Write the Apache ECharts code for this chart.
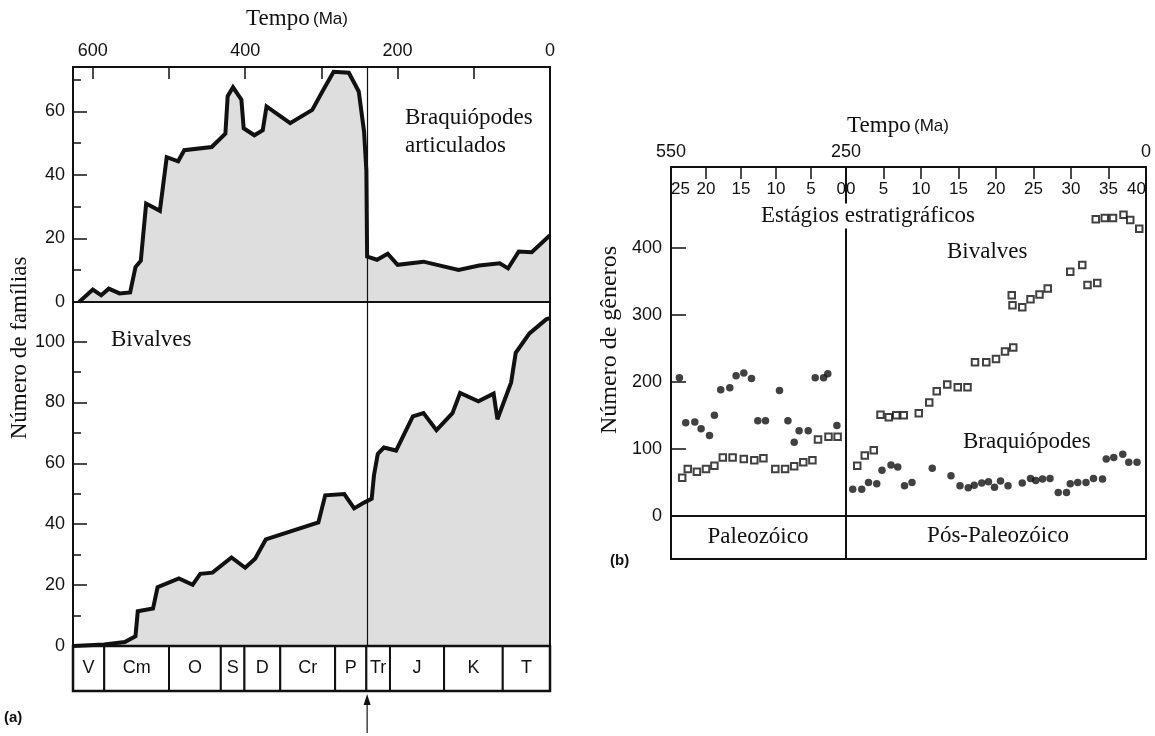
<!DOCTYPE html>
<html><head><meta charset="utf-8">
<script src="https://cdn.jsdelivr.net/npm/echarts@6/dist/echarts.min.js"></script>
<style>html,body{margin:0;padding:0;background:#fff}#c{width:1155px;height:736px}</style>
</head><body><div id="c"></div>
<script>
// ---------- Panel (a) data: time in Ma, number of families ----------
const brachAge = [618,600,589,579,565,551,544,537,530,512,503,488,480,444,426,423,416,405,402,388,377,372,341,312,298,284,264,251,244,241,240,227,213,200,166,120,93,66,55,41,24,0];
const brachFam = [0,3.9,2.1,4.2,2.7,3.0,11,13,31,28.7,45.6,44.3,47.8,48.8,53,64.8,67.6,63.7,54.7,52.5,54.1,61.6,56.3,60.5,66.6,72.5,72.2,66.3,53.6,41.4,14.3,13.3,15.2,11.7,12.7,10.1,11.5,12.2,10.6,15.9,15.7,21];
const bivAge = [626,585,558,544,541,521,515,487,469,459,443,418,400,387,373,304,295,270,257,244,234,231,226,218,202,180,166,149,128,118,94,74,69,51,45,27,5,0];
const bivFam = [0,0.5,1.3,3.2,11.4,12.3,19.3,22.2,20.1,23.7,24.1,29.1,25.7,28.7,35,40.6,49.5,49.9,45.2,47.1,48.4,56.1,63.1,65.2,64.2,75.4,76.5,70.9,76.5,83.1,80.4,82.9,74.5,86.6,96.3,102.7,107.3,107.7];
const periodNames = ['V','Cm','O','S','D','Cr','P','Tr','J','K','T'];
const periodBounds = [626,585,500,432,401,354,282,241,210,139,62,0];
const extinctionAge = 240;
const timeTicks = [0,100,200,300,400,500,600];
const timeLabels = [0,200,400,600];
const brachMajor = [0,20,40,60], brachMinor = [10,30,50,70];
const bivMajor = [0,20,40,60,80,100], bivMinor = [10,30,50,70,90];

// ---------- Panel (b) data: stratigraphic stage, number of genera ----------
const paleoBrachStage = [23.8,22.9,21.6,20.7,19.5,18.8,17.9,16.6,15.7,14.6,13.5,12.6,11.5,9.5,8.3,7.4,6.7,5.4,4.4,3.2,2.6,1.3];
const paleoBrachCount = [206,139,140,130,120,150,188,191,209,213,205,142,142,187,142,110,127,127,206,206,212,135];
const paleoBivStage = [23.4,22.6,21.3,20.0,18.8,17.6,16.2,14.6,13.1,11.8,10.1,8.7,7.4,6.1,4.8,4.0,2.5,1.2];
const paleoBivCount = [57,70,66,70,75,87,87,85,83,86,70,70,74,80,83,114,118,118];
const postBivStage = [1.5,2.5,3.7,4.6,5.7,6.7,7.7,9.7,11.1,12.1,13.5,14.9,16.2,17.2,18.7,20.0,21.2,22.3,22.1,22.2,23.5,24.6,25.8,26.9,29.9,31.5,32.2,33.5,33.3,34.5,35.6,37.0,37.9,39.1];
const postBivCount = [75,90,98,151,147,150,150,153,169,186,196,192,192,229,229,234,245,251,329,314,311,323,330,339,364,374,344,347,442,444,444,449,441,428];
const postBrachStage = [0.9,2.1,3.0,4.1,4.8,6.0,6.9,7.8,8.8,11.5,14.0,15.2,16.3,17.1,18.1,19.0,19.8,20.6,21.6,23.5,24.6,25.3,26.2,27.2,28.3,29.4,29.9,30.9,32.0,33.0,34.2,34.7,35.7,36.9,37.7,38.8];
const postBrachCount = [40,40,50,48,68,76,73,45,50,71,60,45,42,46,49,51,43,52,45,49,56,53,55,56,35,35,48,50,50,56,55,85,87,92,80,80];
const paleoStageTicks = [5,10,15,20], paleoStageLabels = [0,5,10,15,20,25];
const postStageTicks = [5,10,15,20,25,30,35], postStageLabels = [0,5,10,15,20,25,30,35,40];
const generaTicks = [100,200,300,400], generaLabels = [0,100,200,300,400];

const SERIF = 'Liberation Serif', SANS = 'Liberation Sans', INK = '#111';
const zip = (a, b) => a.map((v, i) => [v, b[i]]);
const lab = (vals, extra) => Object.assign({customValues: vals, fontFamily: SANS, fontSize: 18, color: INK}, extra || {});
const tick = (vals, len) => ({show: true, inside: true, length: len, customValues: vals, lineStyle: {color: INK, width: 1.5}});
const noLine = {show: false, onZero: false};
const hidden = (grid, extra) => Object.assign({type: 'value', gridIndex: grid, show: false, axisLine: noLine,
  axisTick: {show: false}, axisLabel: {show: false}, splitLine: {show: false}}, extra || {});
const gridBase = {show: true, borderColor: INK, borderWidth: 2, backgroundColor: 'transparent', z: 5};

const chart = echarts.init(document.getElementById('c'));
const option = {
  animation: false,
  backgroundColor: '#fff',
  grid: [
    Object.assign({left: 73, top: 67, width: 477, height: 235}, gridBase),
    Object.assign({left: 73, top: 302, width: 477, height: 344}, gridBase),
    Object.assign({left: 73, top: 646, width: 477, height: 45}, gridBase, {borderWidth: 2.5}),
    Object.assign({left: 671, top: 167, width: 175, height: 349}, gridBase),
    Object.assign({left: 846, top: 167, width: 300, height: 349}, gridBase),
    Object.assign({left: 671, top: 516, width: 175, height: 43}, gridBase),
    Object.assign({left: 846, top: 516, width: 300, height: 43}, gridBase)
  ],
  xAxis: [
    {type: 'value', gridIndex: 0, min: 0, max: 626, inverse: true, position: 'top',
     axisLine: noLine, splitLine: {show: false},
     axisTick: tick(timeTicks, 12), axisLabel: lab(timeLabels, {margin: 7})},
    hidden(1, {min: 0, max: 626, inverse: true}),
    hidden(2, {min: 0, max: 626, inverse: true}),
    {type: 'value', gridIndex: 3, min: 0, max: 25, inverse: true, position: 'top',
     axisLine: noLine, splitLine: {show: false},
     axisTick: tick(paleoStageTicks, 12),
     axisLabel: lab(paleoStageLabels, {inside: true, margin: 14, fontSize: 17, alignMinLabel: 'right', alignMaxLabel: 'left'})},
    {type: 'value', gridIndex: 3, min: 250, max: 550, inverse: true, position: 'top',
     axisLine: noLine, splitLine: {show: false}, axisTick: {show: false},
     axisLabel: lab([550], {margin: 6})},
    {type: 'value', gridIndex: 4, min: 0, max: 40, position: 'top',
     axisLine: noLine, splitLine: {show: false},
     axisTick: tick(postStageTicks, 12),
     axisLabel: lab(postStageLabels, {inside: true, margin: 14, fontSize: 17, alignMinLabel: 'left', alignMaxLabel: 'right'})},
    {type: 'value', gridIndex: 4, min: 0, max: 250, inverse: true, position: 'top',
     axisLine: noLine, splitLine: {show: false}, axisTick: {show: false},
     axisLabel: lab([250, 0], {margin: 6})},
    hidden(5, {min: 0, max: 1}),
    hidden(6, {min: 0, max: 1})
  ],
  yAxis: [
    {type: 'value', gridIndex: 0, min: 0, max: 74, position: 'left', axisLine: noLine, splitLine: {show: false},
     axisTick: tick(brachMajor, 14), axisLabel: lab(brachMajor, {margin: 8})},
    {type: 'value', gridIndex: 0, min: 0, max: 74, position: 'left', axisLine: noLine, splitLine: {show: false},
     axisTick: tick(brachMinor, 8), axisLabel: {show: false}},
    {type: 'value', gridIndex: 1, min: 0, max: 113, position: 'left', axisLine: noLine, splitLine: {show: false},
     axisTick: tick(bivMajor, 14), axisLabel: lab(bivMajor, {margin: 8})},
    {type: 'value', gridIndex: 1, min: 0, max: 113, position: 'left', axisLine: noLine, splitLine: {show: false},
     axisTick: tick(bivMinor, 8), axisLabel: {show: false}},
    hidden(2, {min: 0, max: 1}),
    {type: 'value', gridIndex: 3, min: 0, max: 520, position: 'left', axisLine: noLine, splitLine: {show: false},
     axisTick: tick(generaTicks, 15), axisLabel: lab(generaLabels, {margin: 9})},
    hidden(4, {min: 0, max: 520}),
    hidden(5, {min: 0, max: 1}),
    hidden(6, {min: 0, max: 1})
  ],
  series: [
    {type: 'line', xAxisIndex: 0, yAxisIndex: 0, data: zip(brachAge, brachFam), symbol: 'none',
     lineStyle: {color: INK, width: 4, join: 'miter', miterLimit: 3},
     areaStyle: {color: '#dedede', opacity: 1},
     markLine: {silent: true, symbol: ['none', 'none'], label: {show: false},
       lineStyle: {color: INK, width: 1.2, type: 'solid'}, data: [{xAxis: extinctionAge}]}},
    {type: 'line', xAxisIndex: 1, yAxisIndex: 2, data: zip(bivAge, bivFam), symbol: 'none',
     lineStyle: {color: INK, width: 4, join: 'miter', miterLimit: 3},
     areaStyle: {color: '#dedede', opacity: 1},
     markLine: {silent: true, symbol: ['none', 'none'], label: {show: false},
       lineStyle: {color: INK, width: 1.2, type: 'solid'}, data: [{xAxis: extinctionAge}]}},
    {type: 'custom', xAxisIndex: 2, yAxisIndex: 4,
     data: periodNames.map((n, i) => [periodBounds[i], periodBounds[i + 1]]),
     renderItem: function (params, api) {
       const a = api.coord([api.value(0), 1]);
       const b = api.coord([api.value(1), 0]);
       const x0 = Math.min(a[0], b[0]), x1 = Math.max(a[0], b[0]);
       return {type: 'group', children: [
         {type: 'rect', shape: {x: x0, y: a[1], width: x1 - x0, height: b[1] - a[1]},
          style: {fill: '#fff', stroke: INK, lineWidth: 2}},
         {type: 'text', x: (x0 + x1) / 2, y: (a[1] + b[1]) / 2,
          style: {text: periodNames[params.dataIndex], align: 'center', verticalAlign: 'middle',
                  font: '18px "Liberation Sans"', fill: INK}}
       ]};
     }},
    {type: 'scatter', xAxisIndex: 3, yAxisIndex: 5, data: zip(paleoBrachStage, paleoBrachCount),
     symbol: 'circle', symbolSize: 7.5, itemStyle: {color: INK}},
    {type: 'scatter', xAxisIndex: 3, yAxisIndex: 5, data: zip(paleoBivStage, paleoBivCount),
     symbol: 'rect', symbolSize: 6.5, itemStyle: {color: '#fff', borderColor: INK, borderWidth: 2}},
    {type: 'scatter', xAxisIndex: 5, yAxisIndex: 6, data: zip(postBrachStage, postBrachCount),
     symbol: 'circle', symbolSize: 7.5, itemStyle: {color: INK}},
    {type: 'scatter', xAxisIndex: 5, yAxisIndex: 6, data: zip(postBivStage, postBivCount),
     symbol: 'rect', symbolSize: 6.5, itemStyle: {color: '#fff', borderColor: INK, borderWidth: 2}}
  ]
};
chart.setOption(option);

const ax = chart.convertToPixel({xAxisIndex: 2}, extinctionAge);
const gb = chart.convertToPixel({yAxisIndex: 4}, 0);
const serifText = (txt, x, y, size, align, extra) => Object.assign({type: 'text', x: x, y: y, z: 50,
  style: {text: txt, font: size + 'px "Liberation Serif"', fill: INK, align: align || 'left', verticalAlign: 'middle'}}, extra || {});
const tempo = (x, y) => ({type: 'text', x: x, y: y, z: 50, style: {text: '{a|Tempo} {b|(Ma)}', align: 'center', verticalAlign: 'middle',
  rich: {a: {fontFamily: SERIF, fontSize: 23, fill: INK}, b: {fontFamily: SANS, fontSize: 17, fill: INK}}}});
chart.setOption({graphic: [
  tempo(297, 19),
  tempo(898, 126),
  serifText('Número de famílias', 20, 348, 23, 'center', {rotation: Math.PI / 2}),
  serifText('Número de gêneros', 610, 340, 24, 'center', {rotation: Math.PI / 2}),
  serifText('Braquiópodes', 405, 118, 23),
  serifText('articulados', 405, 146, 23),
  serifText('Bivalves', 111, 340, 23),
  serifText('Bivalves', 947, 252, 23),
  serifText('Braquiópodes', 963, 442, 23),
  serifText('Paleozóico', 758, 537, 23, 'center'),
  serifText('Pós-Paleozóico', 998, 536, 23, 'center'),
  {type: 'text', x: 868, y: 216, z: 50, style: {text: 'Estágios estratigráficos', font: '23px "Liberation Serif"', fill: INK,
    align: 'center', verticalAlign: 'middle', backgroundColor: '#fff', padding: [1, 3, 1, 3]}},
  {type: 'text', x: 4, y: 718, z: 50, style: {text: '(a)', font: 'bold 15px "Liberation Sans"', fill: INK, verticalAlign: 'middle'}},
  {type: 'text', x: 610, y: 561, z: 50, style: {text: '(b)', font: 'bold 15px "Liberation Sans"', fill: INK, verticalAlign: 'middle'}},
  {type: 'line', z: 50, shape: {x1: ax, y1: gb + 6, x2: ax, y2: gb + 42}, style: {stroke: INK, lineWidth: 1.2}},
  {type: 'polygon', z: 50, shape: {points: [[ax, gb + 3], [ax - 3.5, gb + 14], [ax + 3.5, gb + 14]]}, style: {fill: INK}}
]});
</script>
</body></html>
